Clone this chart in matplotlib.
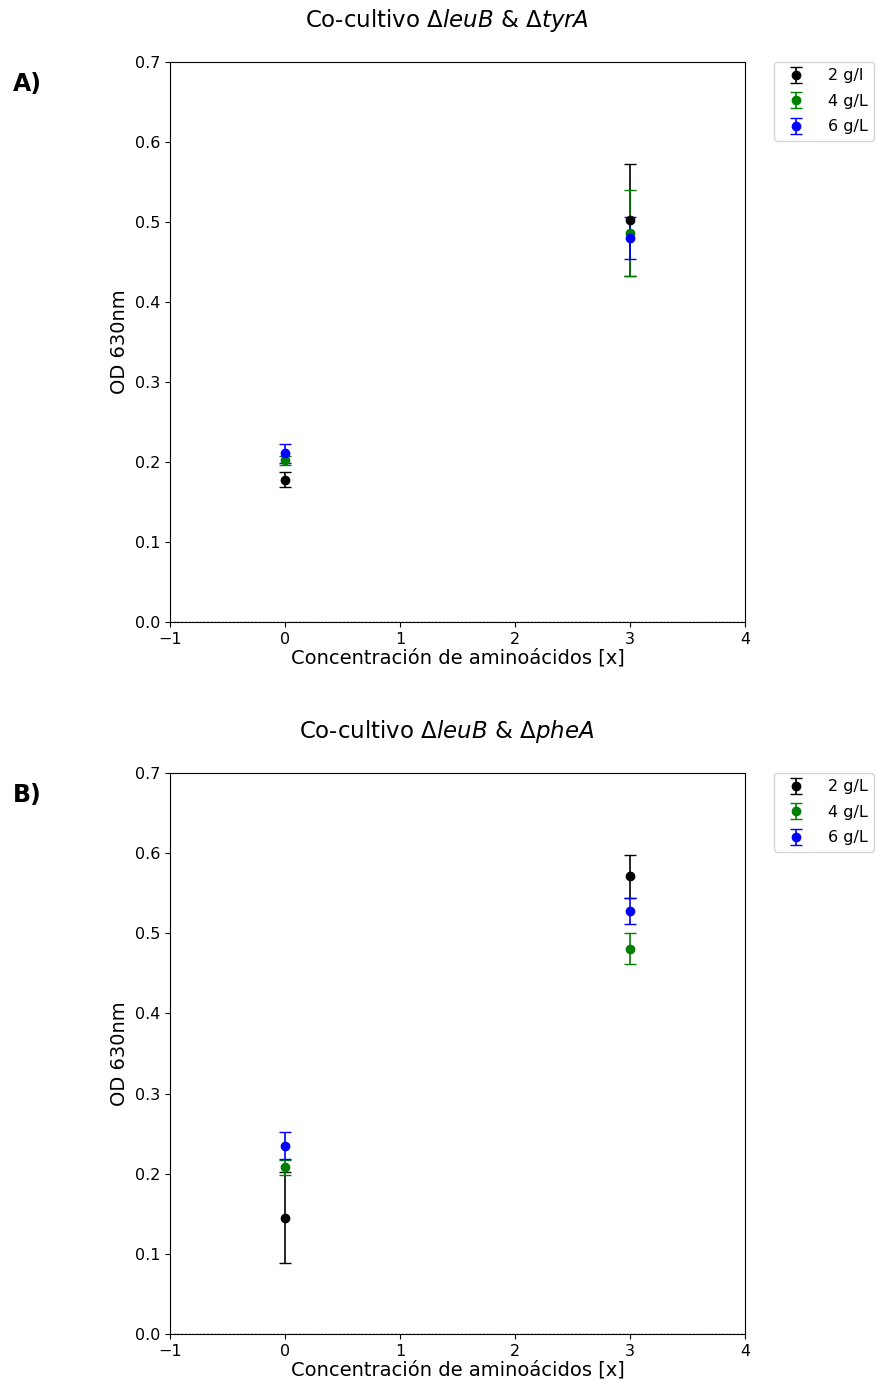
import matplotlib
matplotlib.use("Agg")
import matplotlib.pyplot as plt

x_vals = [0, 3]
labels_a = ["2 g/l", "4 g/L", "6 g/L"]
labels_b = ["2 g/L", "4 g/L", "6 g/L"]
colors = ["black", "green", "blue"]

# Panel A: leuB & tyrA
a_2_mean = [0.178, 0.503]
a_2_err = [0.009, 0.070]
a_4_mean = [0.202, 0.486]
a_4_err = [0.006, 0.054]
a_6_mean = [0.211, 0.480]
a_6_err = [0.012, 0.026]

# Panel B: leuB & pheA
b_2_mean = [0.145, 0.571]
b_2_err = [0.057, 0.027]
b_4_mean = [0.208, 0.481]
b_4_err = [0.009, 0.019]
b_6_mean = [0.235, 0.528]
b_6_err = [0.017, 0.016]

fig = plt.figure(figsize=(8.76, 13.83), dpi=100)
W, H = 876, 1383
axA = fig.add_axes([170 / W, 1 - 622 / H, 575 / W, 560 / H])
axB = fig.add_axes([170 / W, 1 - 1334 / H, 575 / W, 561 / H])

panels = [
    (axA, [(a_2_mean, a_2_err), (a_4_mean, a_4_err), (a_6_mean, a_6_err)], labels_a,
     r"Co-cultivo $\Delta$$\it{leuB}$ & $\Delta$$\it{tyrA}$", "A)"),
    (axB, [(b_2_mean, b_2_err), (b_4_mean, b_4_err), (b_6_mean, b_6_err)], labels_b,
     r"Co-cultivo $\Delta$$\it{leuB}$ & $\Delta$$\it{pheA}$", "B)"),
]

for ax, series, labels, title, tag in panels:
    for (m, e), lab, c in zip(series, labels, colors):
        ax.errorbar(x_vals, m, yerr=e, fmt="o", color=c, ecolor=c, capsize=4.6,
                    markersize=6, elinewidth=1.2, label=lab)
    ax.axhline(0, color="black", linestyle=":", linewidth=1)
    ax.set_xlim(-1, 4)
    ax.set_ylim(0, 0.7)
    ax.set_xticks([-1, 0, 1, 2, 3, 4])
    ax.set_yticks([0.0, 0.1, 0.2, 0.3, 0.4, 0.5, 0.6, 0.7])
    ax.tick_params(labelsize=11.5)
    ax.set_xlabel("Concentración de aminoácidos [x]", fontsize=14, labelpad=1.5)
    ax.set_ylabel("OD 630nm", fontsize=14)
    t = ax.set_title(title, fontsize=16.5, pad=25.5)
    t.set_x((447 - 170) / 575)
    ax.legend(loc="upper left", bbox_to_anchor=(1.05, 1.0), fontsize=11.5,
              borderaxespad=0, labelspacing=0.65, handletextpad=1.0)
    fig.text(13 / W, ax.get_position().y1 - 22 / H, tag, fontsize=17,
             fontweight="bold", ha="left", va="center")

fig.savefig("out.png", dpi=100)
